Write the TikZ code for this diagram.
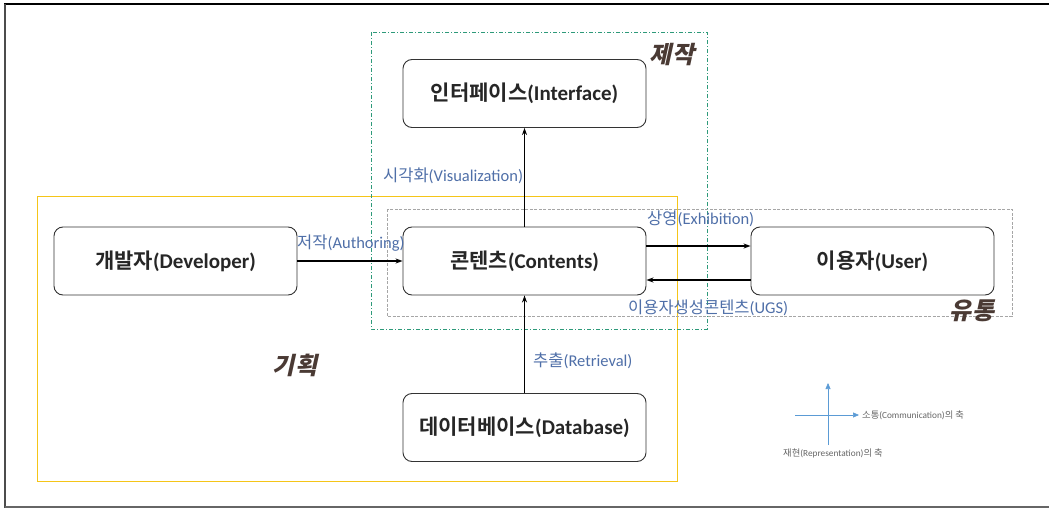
\documentclass[tikz,border=0pt]{standalone}
\usepackage{fontspec}
\setmainfont{Noto Sans CJK KR}[BoldFont={Noto Sans CJK KR Bold}]
\newfontfamily\lat{Carlito}
\newfontfamily\latb{Carlito}[UprightFont={* Bold}]
\newfontfamily\krslant{Noto Sans CJK KR Black}[FakeSlant=0.22]
\usetikzlibrary{arrows.meta}
\definecolor{lblue}{HTML}{4F6FA8}
\definecolor{gold}{HTML}{F5C518}
\definecolor{teal}{HTML}{2E9A7A}
\definecolor{grayd}{HTML}{A6A6A6}
\definecolor{brownk}{HTML}{4A3A34}
\definecolor{axis}{HTML}{5B9BD5}
\begin{document}
\begin{tikzpicture}[x=1pt,y=-1pt,
  box/.style={draw=black!80,line width=0.9pt,rounded corners=9pt,minimum width=243pt,minimum height=68pt,font=\bfseries\fontsize{21}{24}\selectfont,text=black!85},
  lbl/.style={text=lblue,font=\fontsize{16.5}{18}\selectfont,inner sep=0pt},
  zone/.style={text=brownk,font=\krslant\fontsize{24}{27}\selectfont,inner sep=0pt},
  conn/.style={-{Stealth[length=7pt,width=5pt]},line width=1.1pt,black},
  axarrow/.style={-{Triangle[length=6pt,width=5pt]},axis,line width=0.6pt},
  axlbl/.style={text=black!60,font=\fontsize{9.3}{11}\selectfont,inner sep=0pt}]
\useasboundingbox (0,0) rectangle (1049,508);
% page frame
\draw[black,line width=1.2pt] (4,4) -- (1049,4);
\draw[black!70,line width=1.2pt] (5,4) -- (5,508);
\draw[black!60,line width=1.2pt] (5,507) -- (1049,507);
% area frames
\draw[gold,line width=0.9pt] (37,196) rectangle (677,481);
\draw[teal,line width=0.8pt,dash pattern=on 4pt off 2pt on 1pt off 2pt] (371,32) rectangle (707,329);
\draw[grayd,line width=0.8pt,dash pattern=on 3pt off 1.5pt] (387,209) rectangle (1012,316);
% nodes
\node[box] (iface) at (524.5,93.5) {인터페이스{\latb (Interface)}};
\node[box] (cont) at (524.5,261) {콘텐츠{\latb (Contents)}};
\node[box] (dev) at (175.5,261) {개발자{\latb (Developer)}};
\node[box] (user) at (872.5,261) {이용자{\latb (User)}};
\node[box] (db) at (524.5,427.5) {데이터베이스{\latb (Database)}};
% connectors
\draw[conn] (cont.north) -- (iface.south);
\draw[conn] (dev.east) -- (cont.west);
\draw[conn] (db.north) -- (cont.south);
\draw[conn] ([yshift=15pt]cont.east) -- ([yshift=15pt]user.west);
\draw[conn] ([yshift=-19pt]user.west) -- ([yshift=-19pt]cont.east);
% connector labels
\node[lbl,anchor=west] (lvis) at (383,176) {시각화{\lat (Visualization)}};
\node[lbl,anchor=west] (laut) at (297,243) {저작{\lat (Authoring)}};
\node[lbl,anchor=west] (lexh) at (647,219) {상영{\lat (Exhibition)}};
\node[lbl,anchor=west] (lugs) at (628,308) {이용자생성콘텐츠{\lat (UGS)}};
\node[lbl,anchor=west] (lret) at (533,361) {추출{\lat (Retrieval)}};
% area names
\node[zone] (zmake) at (672,55) {제작};
\node[zone] (zdist) at (972,311) {유통};
\node[zone] (zplan) at (295,365) {기획};
% axes legend
\coordinate (vb) at (828,445);
\coordinate (vt) at (828,383);
\coordinate (hl) at (795,415);
\coordinate (hr) at (859,415);
\draw[axarrow] (vb) -- (vt);
\draw[axarrow] (hl) -- (hr);
\node[axlbl,anchor=west] (lcom) at (862,415) {소통{\lat (Communication)}의 축};
\node[axlbl,anchor=west] (lrep) at (783,453) {재현{\lat (Representation)}의 축};
\end{tikzpicture}
\end{document}
